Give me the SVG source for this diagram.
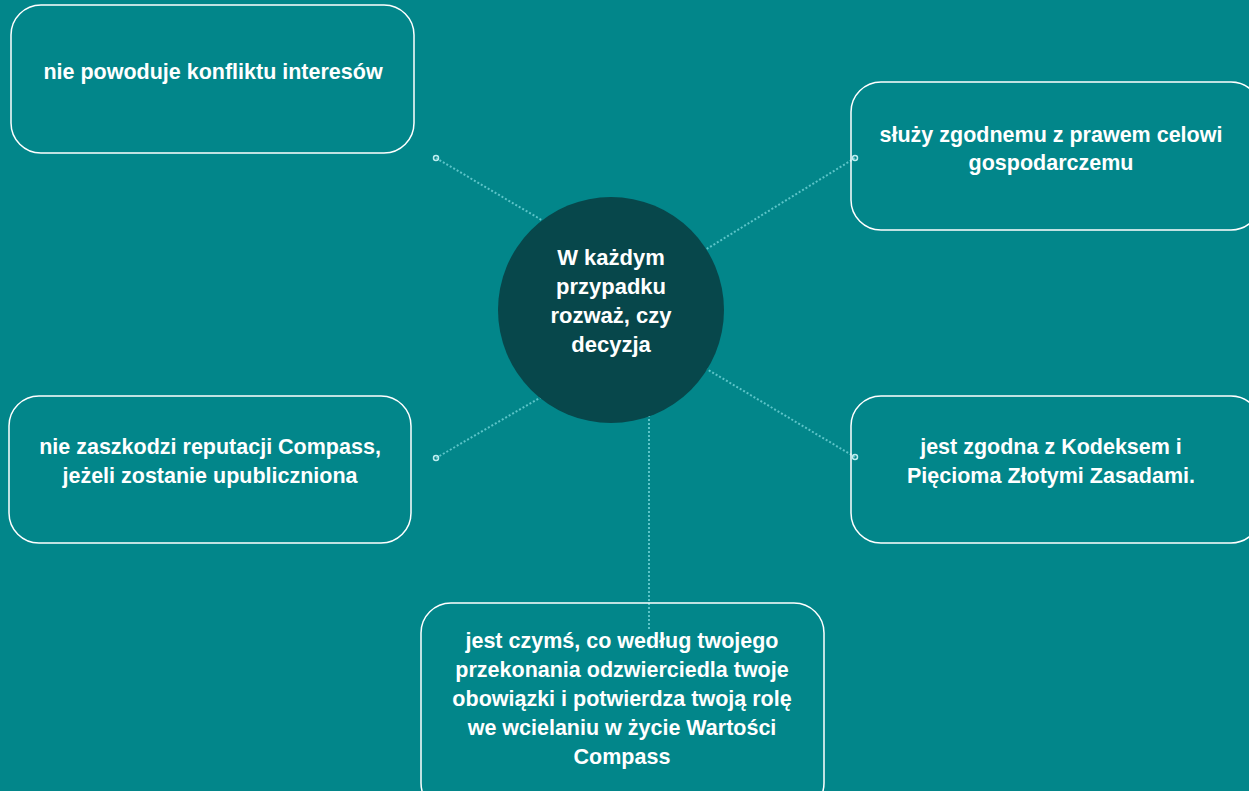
<svg xmlns="http://www.w3.org/2000/svg" width="1249" height="791" viewBox="0 0 1249 791">
<style>
.box{fill:none;stroke:#ffffff;stroke-width:1.5}
.t{font-family:"Liberation Sans",Arial,sans-serif;font-weight:bold;font-size:21.5px;fill:#ffffff;text-anchor:middle}
.ct{font-size:22px}
.con{stroke:#5cc4c8;stroke-width:2;stroke-dasharray:2 2;fill:none}
.end{fill:none;stroke:#bfeef0;stroke-width:1.5}
</style>
<rect width="1249" height="791" fill="#02868a"/>
<g id="connectors">
<line class="con" x1="436" y1="158" x2="545" y2="222"/>
<line class="con" x1="855" y1="158" x2="705" y2="250"/>
<line class="con" x1="436" y1="458" x2="545" y2="395"/>
<line class="con" x1="855" y1="457" x2="705" y2="368"/>
<line class="con" x1="649" y1="415" x2="649" y2="630"/>
<circle class="end" cx="436" cy="158" r="2.5"/>
<circle class="end" cx="855" cy="158" r="2.5"/>
<circle class="end" cx="436" cy="458" r="2.5"/>
<circle class="end" cx="855" cy="457" r="2.5"/>
</g>
<g id="center">
<circle cx="611" cy="310" r="113" fill="#07474b"/>
<text class="t ct" x="611" y="265">W każdym</text>
<text class="t ct" x="611" y="294">przypadku</text>
<text class="t ct" x="611" y="323">rozważ, czy</text>
<text class="t ct" x="611" y="352">decyzja</text>
</g>
<g id="n1">
<rect class="box" x="11" y="5" width="403" height="148" rx="30"/>
<text class="t" x="213" y="79">nie powoduje konfliktu interesów</text>
</g>
<g id="n2">
<rect class="box" x="851" y="82" width="410" height="148" rx="30"/>
<text class="t" x="1051" y="142">służy zgodnemu z prawem celowi</text>
<text class="t" x="1051" y="170">gospodarczemu</text>
</g>
<g id="n3">
<rect class="box" x="9" y="396" width="402" height="147" rx="30"/>
<text class="t" x="210" y="454">nie zaszkodzi reputacji Compass,</text>
<text class="t" x="210" y="483">jeżeli zostanie upubliczniona</text>
</g>
<g id="n4">
<rect class="box" x="851" y="396" width="410" height="147" rx="30"/>
<text class="t" x="1051" y="454">jest zgodna z Kodeksem i</text>
<text class="t" x="1051" y="483">Pięcioma Złotymi Zasadami.</text>
</g>
<g id="n5">
<rect class="box" x="421" y="603" width="403" height="210" rx="30"/>
<text class="t" x="622" y="648">jest czymś, co według twojego</text>
<text class="t" x="622" y="677">przekonania odzwierciedla twoje</text>
<text class="t" x="622" y="706">obowiązki i potwierdza twoją rolę</text>
<text class="t" x="622" y="735">we wcielaniu w życie Wartości</text>
<text class="t" x="622" y="764">Compass</text>
</g>
</svg>
